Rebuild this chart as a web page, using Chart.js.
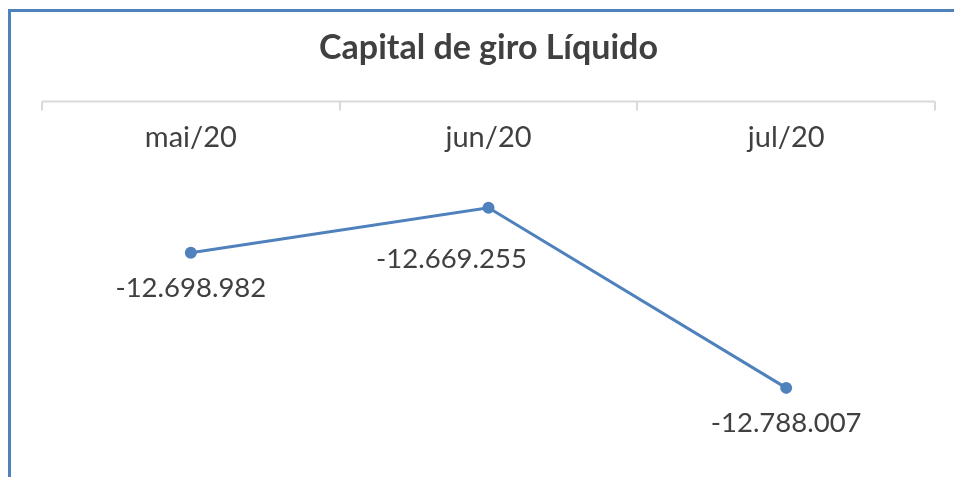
<!DOCTYPE html>
<html lang="pt">
<head>
  <meta charset="UTF-8">
  <title>Capital de giro Líquido</title>
  <script src="https://cdn.jsdelivr.net/npm/chart.js"></script>
  <style>
    html, body {
      margin: 0;
      background: #fff;
      overflow: hidden;
    }

    .frame {
      position: absolute;
      left: 8px;
      top: 9px;
      width: 946px;
      height: 468px;
      box-sizing: border-box;
      border-top: 3px solid #4f81bd;
      border-left: 3px solid #4f81bd;
    }

    .frame canvas {
      display: block;
    }
  </style>
</head>
<body>

<div class="frame">
  <canvas id="cglChart" width="943" height="465"></canvas>
</div>

<script>
  const months = ["mai/20", "jun/20", "jul/20"];
  const capitalGiro = [-12698982, -12669255, -12788007];

  // where each value label sits relative to its point (Excel moved the middle one)
  const labelOffsets = [[0, 35], [-37, 51], [0, 35]];

  const textColor = '#404040';
  const lineColor = '#4f81bd';
  const fontFamily = "'Lato', 'DejaVu Sans', sans-serif";

  function fmt(v) {
    const s = Math.abs(v).toString().replace(/\B(?=(\d{3})+(?!\d))/g, '.');
    return (v < 0 ? '-' : '') + s;
  }

  // axis line on top with tick marks pointing down, labels under it
  const topAxis = {
    id: 'topAxis',
    afterDraw(chart) {
      const { ctx, chartArea, scales } = chart;
      const x = scales.x;
      const y0 = chartArea.top;
      ctx.save();
      ctx.strokeStyle = '#d9d9d9';
      ctx.lineWidth = 2;
      ctx.beginPath();
      ctx.moveTo(x.getPixelForValue(-0.5), y0);
      ctx.lineTo(x.getPixelForValue(months.length - 0.5), y0);
      for (let i = 0; i <= months.length; i++) {
        const px = Math.round(x.getPixelForValue(i - 0.5));
        ctx.moveTo(px, y0);
        ctx.lineTo(px, y0 + 9);
      }
      ctx.stroke();

      ctx.fillStyle = textColor;
      ctx.font = '29px ' + fontFamily;
      ctx.textAlign = 'center';
      ctx.textBaseline = 'middle';
      months.forEach((m, i) => {
        ctx.fillText(m, x.getPixelForValue(i), y0 + 36);
      });
      ctx.restore();
    }
  };

  const valueLabels = {
    id: 'valueLabels',
    afterDatasetsDraw(chart) {
      const { ctx } = chart;
      const meta = chart.getDatasetMeta(0);
      ctx.save();
      ctx.fillStyle = textColor;
      ctx.font = '27.5px ' + fontFamily;
      ctx.textAlign = 'center';
      ctx.textBaseline = 'middle';
      meta.data.forEach((pt, i) => {
        const [dx, dy] = labelOffsets[i];
        ctx.fillText(fmt(capitalGiro[i]), pt.x + dx, pt.y + dy);
      });
      ctx.restore();
    }
  };

  new Chart(document.getElementById('cglChart'), {
    type: 'line',
    data: {
      labels: months,
      datasets: [{
        data: capitalGiro,
        borderColor: lineColor,
        backgroundColor: lineColor,
        borderWidth: 3,
        pointRadius: 6,
        pointBorderWidth: 0,
        pointBackgroundColor: lineColor,
        tension: 0
      }]
    },
    options: {
      responsive: false,
      animation: false,
      layout: {
        padding: { left: 31, right: 19, top: 0, bottom: 0 }
      },
      plugins: {
        legend: { display: false },
        tooltip: { enabled: false },
        title: {
          display: true,
          text: 'Capital de giro Líquido',
          color: textColor,
          font: { family: fontFamily, size: 34, weight: 'bold' },
          padding: { top: 15.6, bottom: 33.2 }
        }
      },
      scales: {
        x: {
          display: false,
          offset: true
        },
        y: {
          display: false,
          min: -12842800,
          max: -12599300
        }
      }
    },
    plugins: [topAxis, valueLabels]
  });
</script>

</body>
</html>
